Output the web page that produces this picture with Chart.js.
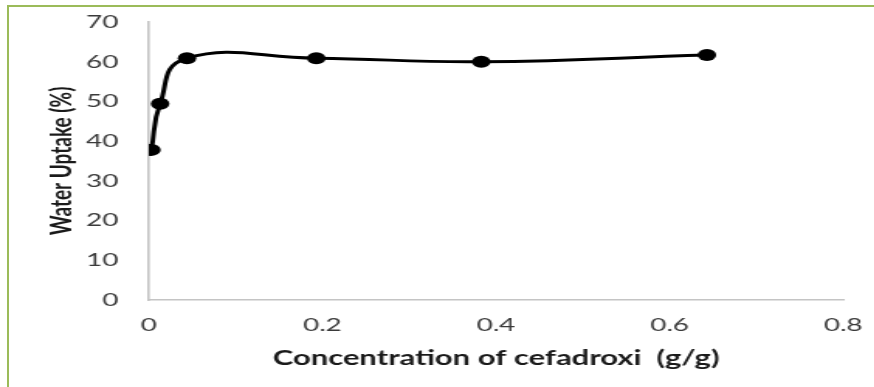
<!DOCTYPE html>
<html>
<head>
<meta charset="utf-8">
<script src="https://cdn.jsdelivr.net/npm/chart.js@4"></script>
<style>
  html, body { margin: 0; padding: 0; background: #fff; overflow: hidden; }
  #frame {
    position: absolute; left: 7px; top: 5px; width: 880px; height: 400px;
    border-left: 2px solid #9bbb59; border-top: 2px solid #9bbb59;
  }
  /* chart is drawn narrow and widened sideways */
  #wrap {
    position: absolute; left: 0; top: 0; width: 564px; height: 387px;
    transform: scaleX(1.55); transform-origin: 0 0;
  }
</style>
</head>
<body>
<div id="frame"></div>
<div id="wrap"><canvas id="myChart" width="564" height="387"></canvas></div>
<script>
  // concentration (g/g) and water uptake (%)
  var concentration = [0.003, 0.013, 0.044, 0.193, 0.383, 0.643];
  var waterUptake = [37.8, 49.4, 60.9, 60.9, 60.0, 61.7];
  var xTicks = [0, 0.2, 0.4, 0.6, 0.8];
  var yTicks = [0, 10, 20, 30, 40, 50, 60, 70];

  var points = concentration.map(function (c, i) {
    return { x: c, y: waterUptake[i] };
  });

  var ctx = document.getElementById('myChart').getContext('2d');

  var myChart = new Chart(ctx, {
    type: 'scatter',
    data: {
      datasets: [{
        data: points,
        showLine: true,
        tension: 0.45,
        borderColor: '#000',
        borderWidth: 3,
        backgroundColor: '#000',
        pointRadius: 6,
        pointHoverRadius: 6,
        pointBorderWidth: 0
      }]
    },
    options: {
      responsive: false,
      animation: false,
      layout: { autoPadding: false, padding: { left: 0, right: 20, top: 22, bottom: 0 } },
      plugins: { legend: { display: false }, tooltip: { enabled: false } },
      scales: {
        x: {
          type: 'linear',
          min: 0,
          max: 0.8,
          afterBuildTicks: function (scale) {
            scale.ticks = xTicks.map(function (v) { return { value: v }; });
          },
          afterFit: function (scale) {
            scale.height = 87;
            scale.paddingLeft = 0;
            scale.paddingRight = 0;
          },
          grid: { display: false, drawTicks: false },
          border: { display: true, color: '#c4c4c4', width: 1.6 },
          ticks: {
            padding: 14,
            color: '#3a3a3a',
            font: { family: 'Lato', size: 18 },
            callback: function (v) { return String(v); }
          },
          title: {
            display: true,
            text: 'Concentration of cefadroxi  (g/g)',
            color: '#1a1a1a',
            font: { family: 'Lato', size: 20, weight: 'bold' },
            padding: { top: 0, bottom: 16 }
          }
        },
        y: {
          min: 0,
          max: 70,
          afterBuildTicks: function (scale) {
            scale.ticks = yTicks.map(function (v) { return { value: v }; });
          },
          afterFit: function (scale) {
            scale.width = 96;
            scale.paddingTop = 0;
            scale.paddingBottom = 0;
          },
          grid: { display: false, drawTicks: false },
          border: { display: true, color: '#c4c4c4', width: 1.6 },
          ticks: {
            padding: 19.5,
            color: '#3a3a3a',
            font: { family: 'Lato', size: 18 }
          },
          title: {
            display: true,
            text: 'Water Uptake (%)',
            color: '#1a1a1a',
            font: { family: 'Lato', size: 19, weight: 'bold' },
            padding: { top: 28, bottom: 0 }
          }
        }
      }
    }
  });
</script>
</body>
</html>
